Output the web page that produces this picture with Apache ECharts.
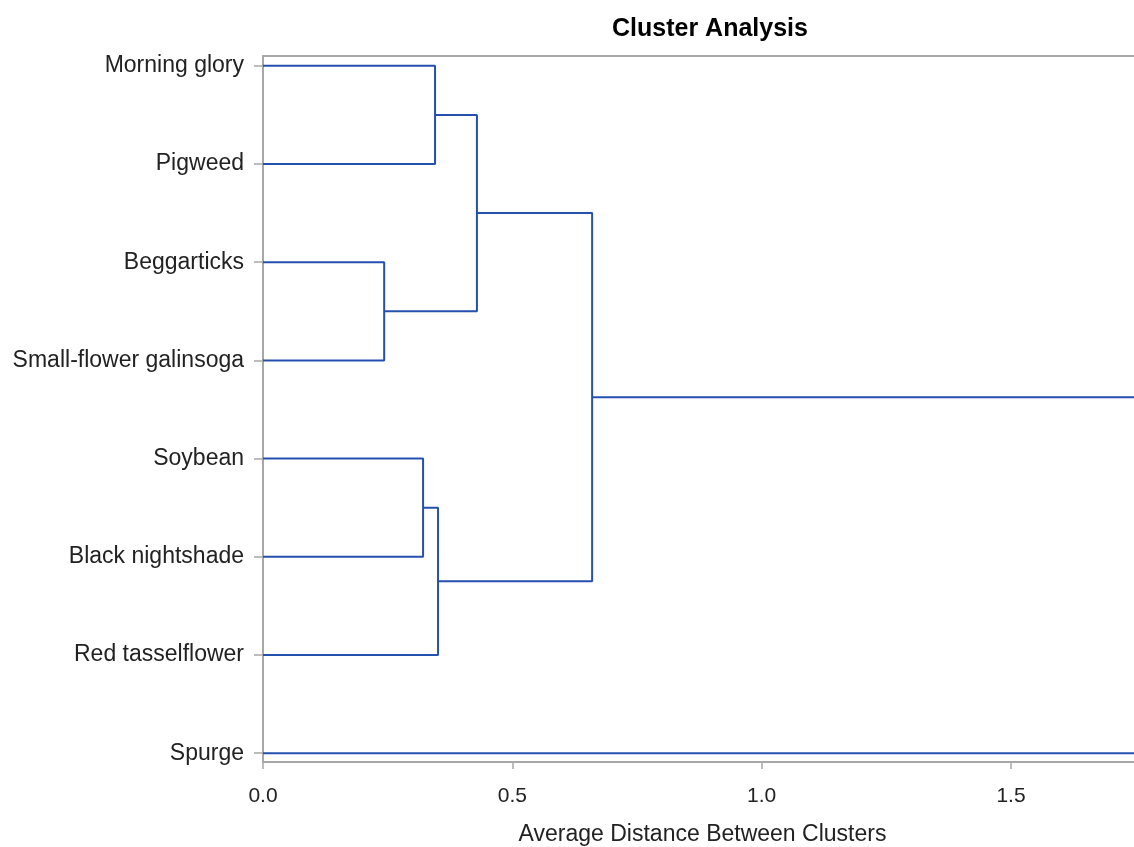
<!DOCTYPE html>
<html>
<head>
<meta charset="utf-8">
<script src="https://cdn.jsdelivr.net/npm/echarts@6/dist/echarts.min.js"></script>
<style>html,body{margin:0;padding:0;background:#fff}#c{width:1134px;height:847px}</style>
</head>
<body>
<div id="c"></div>
<script>
// Leaves (top to bottom)
const leaves = ['Morning glory','Pigweed','Beggarticks','Small-flower galinsoga','Soybean','Black nightshade','Red tasselflower','Spurge'];
// Merges: [nodeA, nodeB, height]; leaves are 0..7, new clusters get ids 8, 9, ...
const mergeA = [0, 2, 8, 4, 11, 10, 13];
const mergeB = [1, 3, 9, 5, 6, 12, 7];
const mergeHeight = [0.345, 0.243, 0.429, 0.321, 0.351, 0.660, 2.2];
const xTicks = [0, 0.5, 1.0, 1.5];
const xLabel = 'Average Distance Between Clusters';
const title = 'Cluster Analysis';

const nodeY = leaves.map((_, i) => i);
const nodeH = leaves.map(() => 0);
const series = [];
const lineColor = '#2450b0';
for (let i = 0; i < mergeA.length; i++) {
  const a = mergeA[i], b = mergeB[i], h = mergeHeight[i];
  series.push({
    type: 'line', xAxisIndex: 0, yAxisIndex: 0, symbol: 'none', clip: true, silent: true,
    lineStyle: { color: lineColor, width: 2 },
    data: [[nodeH[a], nodeY[a]], [h, nodeY[a]], [h, nodeY[b]], [nodeH[b], nodeY[b]]]
  });
  nodeY.push((nodeY[a] + nodeY[b]) / 2);
  nodeH.push(h);
}

const font = 'Liberation Sans, Arial, sans-serif';
const chart = echarts.init(document.getElementById('c'), null, { renderer: 'canvas' });
chart.setOption({
  animation: false,
  backgroundColor: '#fff',
  title: { text: title, left: 705, top: 12, textAlign: 'center',
    textStyle: { fontFamily: font, fontSize: 25, fontWeight: 'bold', color: '#000' } },
  grid: { left: 263, right: 0, top: 56, bottom: 85, containLabel: false, outerBoundsMode: 'none' },
  xAxis: [{
    type: 'value', min: 0, max: 1.7466, interval: 0.5, position: 'bottom',
    axisLine: { show: true, onZero: false, lineStyle: { color: '#a8a8a8', width: 2 } },
    axisTick: { show: true, length: 7, customValues: xTicks, lineStyle: { color: '#a8a8a8', width: 1.5 } },
    axisLabel: { customValues: xTicks, formatter: v => v.toFixed(1), fontFamily: font, fontSize: 21, color: '#222', margin: 24 },
    splitLine: { show: false },
    name: xLabel, nameLocation: 'middle', nameGap: 61,
    nameTextStyle: { fontFamily: font, fontSize: 23, color: '#222', padding: [0, 0, 0, 8] }
  }, {
    type: 'value', min: 0, max: 1.7466, position: 'top',
    axisLine: { show: true, onZero: false, lineStyle: { color: '#a8a8a8', width: 2 } },
    axisTick: { show: false }, axisLabel: { show: false }, splitLine: { show: false }
  }],
  yAxis: [{
    type: 'value', inverse: true, min: -0.1, max: 7.09,
    axisLine: { show: true, onZero: false, lineStyle: { color: '#a8a8a8', width: 2 } },
    axisTick: { show: true, length: 9, customValues: leaves.map((_, i) => i), lineStyle: { color: '#a8a8a8', width: 1.5 } },
    axisLabel: { customValues: leaves.map((_, i) => i), formatter: v => leaves[Math.round(v)] || '',
      fontFamily: font, fontSize: 23, color: '#222', margin: 19 },
    splitLine: { show: false }
  }],
  series: series
});
</script>
</body>
</html>
